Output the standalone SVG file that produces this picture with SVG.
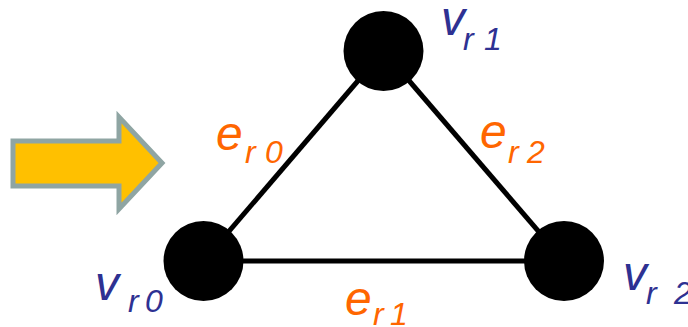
<svg xmlns="http://www.w3.org/2000/svg" width="688" height="327" viewBox="0 0 688 327">
<style>
.edge{stroke:#000;stroke-width:5;fill:none}
.node{fill:#000}
.lbl{font-family:"Liberation Sans",Arial,sans-serif;font-style:italic}
.v{fill:#2e3192}
.e{fill:#ff6600}
.big{font-size:48px}
.sub{font-size:32px}
</style>
<rect width="688" height="327" fill="#fff"/>
<g id="arrow">
<path d="M13,141 H119 V117 L162,163 L119,209 V186 H13 Z" fill="#ffc000" stroke="#8fa5a3" stroke-width="5"/>
</g>
<g id="connectors">
<line id="e_r0" class="edge" x1="203.5" y1="261" x2="383.5" y2="51"/>
<line id="e_r1" class="edge" x1="203.5" y1="261" x2="564" y2="261"/>
<line id="e_r2" class="edge" x1="383.5" y1="51" x2="564" y2="261"/>
</g>
<g id="v_r0"><circle class="node" cx="203.5" cy="261" r="40"/>
<text class="lbl v big" x="95" y="300">v</text><text class="lbl v sub" y="312"><tspan x="128">r</tspan><tspan x="145">0</tspan></text></g>
<g id="v_r1"><circle class="node" cx="383.5" cy="51" r="40"/>
<text class="lbl v big" x="441" y="35">v</text><text class="lbl v sub" y="50"><tspan x="463">r</tspan><tspan x="484">1</tspan></text></g>
<g id="v_r2"><circle class="node" cx="564" cy="261" r="40"/>
<text class="lbl v big" x="623" y="290">v</text><text class="lbl v sub" y="304"><tspan x="646">r</tspan><tspan x="674">2</tspan></text></g>
<g id="lbl_e_r0"><text class="lbl e big" x="216" y="150">e</text><text class="lbl e sub" y="163"><tspan x="245">r</tspan><tspan x="265">0</tspan></text></g>
<g id="lbl_e_r2"><text class="lbl e big" x="480" y="148">e</text><text class="lbl e sub" y="163"><tspan x="508">r</tspan><tspan x="527">2</tspan></text></g>
<g id="lbl_e_r1"><text class="lbl e big" x="345" y="315">e</text><text class="lbl e sub" y="325"><tspan x="373">r</tspan><tspan x="390">1</tspan></text></g>
</svg>
